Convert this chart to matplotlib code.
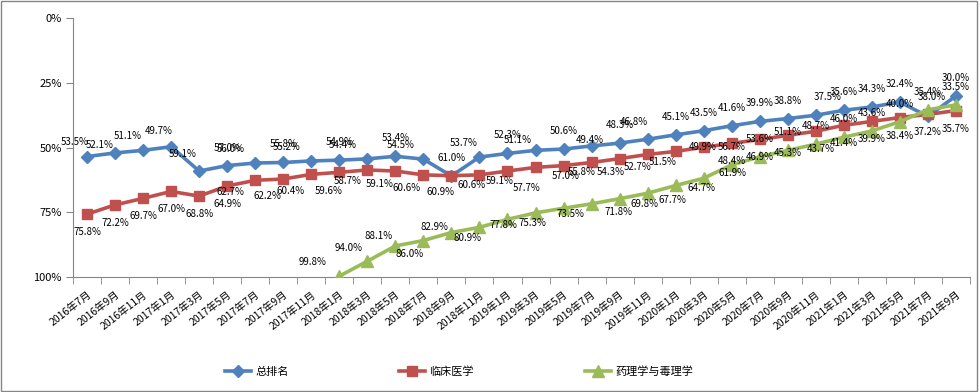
import numpy as np
import matplotlib
matplotlib.use("Agg")
import matplotlib.pyplot as plt
from matplotlib.patches import Rectangle
from matplotlib.ticker import FuncFormatter

plt.rcParams['font.family'] = ['Noto Sans CJK SC', 'DejaVu Sans']

# 月份（每两个月一个点）
months = ['2016年7月', '2016年9月', '2016年11月',
          '2017年1月', '2017年3月', '2017年5月', '2017年7月', '2017年9月', '2017年11月',
          '2018年1月', '2018年3月', '2018年5月', '2018年7月', '2018年9月', '2018年11月',
          '2019年1月', '2019年3月', '2019年5月', '2019年7月', '2019年9月', '2019年11月',
          '2020年1月', '2020年3月', '2020年5月', '2020年7月', '2020年9月', '2020年11月',
          '2021年1月', '2021年3月', '2021年5月', '2021年7月', '2021年9月']

# 百分位排名（%）
total_rank = [53.5, 52.1, 51.1, 49.7, 59.1, 57.0, 56.0, 55.8, 55.2, 54.9, 54.4,
              53.4, 54.5, 61.0, 53.7, 52.3, 51.1, 50.6, 49.4, 48.3, 46.8,
              45.1, 43.5, 41.6, 39.9, 38.8, 37.5, 35.6, 34.3, 32.4, 38.0, 30.0]
clinical = [75.8, 72.2, 69.7, 67.0, 68.8, 64.9, 62.7, 62.2, 60.4, 59.6, 58.7,
            59.1, 60.6, 60.9, 60.6, 59.1, 57.7, 57.0, 55.8, 54.3, 52.7,
            51.5, 49.9, 48.4, 46.9, 45.3, 43.7, 41.4, 39.9, 38.4, 37.2, 35.7]
pharma = [np.nan] * 9 + [99.8, 94.0, 88.1, 86.0, 82.9, 80.9, 77.8, 75.3, 73.5, 71.8, 69.8,
                         67.7, 64.7, 61.9, 56.7, 53.6, 51.1, 48.7, 46.0, 43.6, 40.0, 35.4, 33.5]

series_names = ['总排名', '临床医学', '药理学与毒理学']
colors = ['#4F81BD', '#C0504D', '#9BBB59']
markers = ['D', 's', '^']
msizes = [6.5, 7.5, 8]

# 数据标签偏移（像素，向下为正），未列出的用默认值
label_default = [(0, -18), (0, 18), (0, -18)]
label_override = [
    {0: (-12, -15), 1: (-15, -8), 2: (-15, -14), 3: (-12, -16), 4: (-17, -17),
     6: (-25, -14), 8: (-25, -14), 10: (-25, -14), 12: (-23, -14), 14: (-16, -14),
     16: (-18, -10), 18: (-2, -6), 20: (-14, -17), 26: (12, -18), 30: (4, -19)},
    {6: (-25, 12), 7: (-16, 17), 8: (-21, 17), 9: (-11, 19), 10: (-20, 11),
     11: (-16, 13), 12: (-17, 13), 13: (-11, 16), 14: (-8, 10), 15: (-8, 10),
     16: (-9, 21), 17: (2, 10), 18: (-10, 10), 19: (-9, 13), 20: (-10, 13),
     21: (-13, 11), 22: (-1, 0), 26: (5, 18)},
    {9: (-27, -14), 10: (-19, -13), 11: (-17, -10), 12: (-14, 13), 13: (-17, -6),
     14: (-12, 11), 15: (-4, 6), 16: (-3, 10), 17: (7, 6), 18: (27, 8),
     19: (25, 5), 20: (25, 7), 21: (26, 3), 22: (29, -5)},
]

fig = plt.figure(figsize=(9.8, 3.92), dpi=100)
ax = fig.add_axes([73 / 980, 1 - 276.7 / 392, 897 / 980, 258.4 / 392])

x = np.arange(len(months))
data = [total_rank, clinical, pharma]
for k, vals in enumerate(data):
    ax.plot(x, vals, color=colors[k], marker=markers[k], markersize=msizes[k],
            linewidth=2.6, label=series_names[k], zorder=3)
    for i, v in enumerate(vals):
        if np.isnan(v):
            continue
        dx, dy = label_override[k].get(i, label_default[k])
        ax.annotate(f'{v:.1f}%', (i, v), xytext=(dx, -dy), textcoords='offset pixels',
                    ha='center', va='center', fontsize=7, color='black', zorder=4)

ax.set_ylim(100, 0)
ax.set_yticks([0, 25, 50, 75, 100])
ax.yaxis.set_major_formatter(FuncFormatter(lambda v, p: f'{v:.0f}%'))
ax.set_xlim(-0.5, len(months) - 0.5)
ax.set_xticks(x)
ax.set_xticklabels(months, rotation=38, ha='right', rotation_mode='anchor', fontsize=7.5)
ax.set_xticks(np.arange(len(months) + 1) - 0.5, minor=True)
ax.tick_params(axis='x', which='major', length=0, pad=9)
ax.tick_params(axis='x', which='minor', length=5, color='#868686')
ax.tick_params(axis='y', length=5, color='#868686', labelsize=8, pad=3)

for s in ['top', 'right']:
    ax.spines[s].set_visible(False)
for s in ['left', 'bottom']:
    ax.spines[s].set_color('#868686')

fig.legend(loc='center left', bbox_to_anchor=(225 / 980, 1 - 372 / 392), ncol=3,
           frameon=False, fontsize=8, handlelength=2.3, handletextpad=0.4,
           columnspacing=10.0, borderpad=0, borderaxespad=0, numpoints=1)

fig.patches.append(Rectangle((0.5 / 980, 0.8 / 392), 976 / 980, 390 / 392,
                             transform=fig.transFigure, fill=False,
                             edgecolor='#868686', linewidth=1))

fig.savefig('out.png', dpi=100)
